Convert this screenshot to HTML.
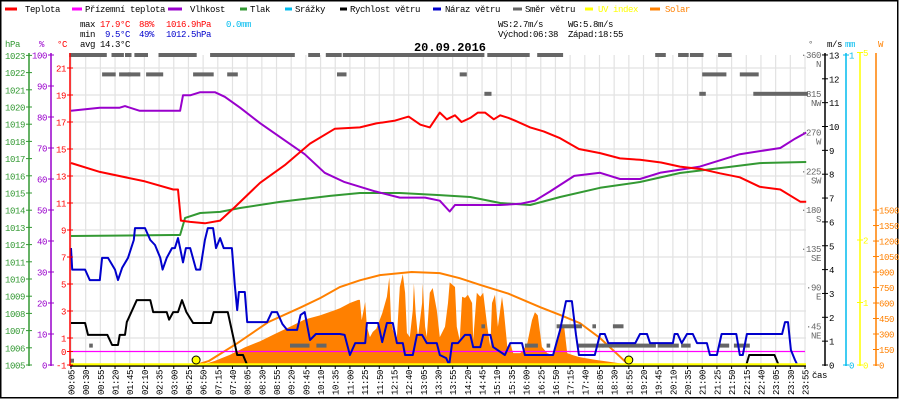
<!DOCTYPE html>
<html><head><meta charset="utf-8"><title>Weather chart 20.09.2016</title>
<style>
html,body{margin:0;padding:0;background:#fff;}
svg{display:block;font-family:"Liberation Mono",monospace;font-size:9px;letter-spacing:-0.4px;}
</style></head>
<body>
<svg id="chart" width="900" height="400" viewBox="0 0 900 400" xmlns="http://www.w3.org/2000/svg">
<rect x="0.75" y="0.75" width="897" height="397" fill="#fff" stroke="#000" stroke-width="1.5"/>
<g id="grid"></g>
<g id="series"></g>
<g id="axes"></g>

<!-- legend -->
<g>
 <g><line x1="5" y1="9" x2="17" y2="9" stroke="#ff0000" stroke-width="3"/><text x="25" y="12">Teplota</text></g>
 <g><line x1="72" y1="9" x2="82" y2="9" stroke="#ff00ff" stroke-width="3"/><text x="85" y="12">Přízemní teplota</text></g>
 <g><line x1="168" y1="9" x2="182" y2="9" stroke="#9900cc" stroke-width="3"/><text x="190" y="12">Vlhkost</text></g>
 <g><line x1="240" y1="9" x2="247" y2="9" stroke="#339933" stroke-width="3"/><text x="250" y="12">Tlak</text></g>
 <g><line x1="285" y1="9" x2="292" y2="9" stroke="#00bbee" stroke-width="3"/><text x="295" y="12">Srážky</text></g>
 <g><line x1="340" y1="9" x2="347" y2="9" stroke="#000" stroke-width="3"/><text x="350" y="12">Rychlost větru</text></g>
 <g><line x1="433" y1="9" x2="441" y2="9" stroke="#0000cc" stroke-width="3"/><text x="445" y="12">Náraz větru</text></g>
 <g><line x1="513" y1="9" x2="522" y2="9" stroke="#666" stroke-width="3"/><text x="525" y="12">Směr větru</text></g>
 <g><line x1="585" y1="9" x2="593" y2="9" stroke="#ffff00" stroke-width="3"/><text x="598" y="12" fill="#ffff00">UV index</text></g>
 <g><line x1="650" y1="9" x2="660" y2="9" stroke="#ff8000" stroke-width="3"/><text x="665" y="12" fill="#ff8000">Solar</text></g>
</g>

<!-- stats -->
<g>
 <text x="80" y="27">max</text>
 <text x="100" y="27" fill="#ff0000">17.9°C</text>
 <text x="139" y="27" fill="#ff0000">88%</text>
 <text x="166" y="27" fill="#ff0000">1016.9hPa</text>
 <text x="226" y="27" fill="#00bbee">0.0mm</text>
 <text x="80" y="37">min</text>
 <text x="105" y="37" fill="#0000cc">9.5°C</text>
 <text x="139" y="37" fill="#0000cc">49%</text>
 <text x="166" y="37" fill="#0000cc">1012.5hPa</text>
 <text x="80" y="47">avg 14.3°C</text>
 <text x="498" y="27">WS:2.7m/s</text>
 <text x="568" y="27">WG:5.8m/s</text>
 <text x="498" y="37">Východ:06:38</text>
 <text x="568" y="37">Západ:18:55</text>
</g>
<text x="450" y="51" text-anchor="middle" font-weight="bold" font-size="12px" letter-spacing="0">20.09.2016</text>

<!-- axis headers -->
<text x="5" y="47" fill="#339933">hPa</text>
<text x="39" y="47" fill="#9900cc">%</text>
<text x="57" y="47" fill="#ff0000">°C</text>
<text x="808" y="47" fill="#666">°</text>
<text x="827" y="47">m/s</text>
<text x="845" y="47" fill="#00bbee">mm</text>
<text x="878" y="47" fill="#ff8000">W</text>
<text x="812" y="378">čas</text>

<script>
// ---------- data ----------
const tickLabels = ["00:05","00:30","00:55","01:20","01:45","02:10","02:35","03:00","06:25","06:50","07:15","07:40","08:05","08:30","08:55","09:20","09:45","10:10","10:35","11:00","11:25","11:50","12:15","12:40","13:05","13:30","13:55","14:20","14:45","15:10","15:35","16:00","16:25","16:50","17:15","17:40","18:05","18:30","18:55","19:20","19:45","20:10","20:35","21:00","21:25","21:50","22:15","22:40","23:05","23:30","23:55"];

const tempTimes = ["00:05","00:54","02:11","02:59","03:59","04:40","06:28","06:53","07:19","07:44","08:27","09:09","09:52","10:34","11:17","11:45","12:17","12:40","13:00","13:16","13:33","13:45","13:59","14:10","14:25","14:38","14:50","15:05","15:16","15:30","15:41","16:07","16:30","16:58","17:30","18:06","18:40","19:14","19:50","20:22","21:00","21:30","22:04","22:38","23:13","23:47","23:57"];
const tempValues = [13.96,13.3,12.6,12.0,12.0,9.7,9.6,9.5,9.7,10.7,12.5,13.8,15.4,16.5,16.6,16.9,17.1,17.4,16.8,16.6,17.7,17.2,17.5,17.0,17.3,17.7,17.7,17.2,17.5,17.3,17.1,16.6,16.3,15.8,15.0,14.7,14.3,14.2,14.0,13.7,13.5,13.2,12.9,12.2,12.0,11.1,11.1];

const groundTimes = ["00:05","23:55"];
const groundValues = [0,0];

const humTimes = ["00:05","00:54","01:28","01:37","02:02","02:45","02:59","04:28","05:09","06:28","06:45","07:10","07:27","07:53","08:27","09:09","09:43","10:17","10:51","11:43","12:25","13:08","13:33","13:50","13:59","14:25","15:16","15:50","16:15","16:41","17:22","18:06","18:40","19:14","19:48","20:56","22:04","23:13","23:38","23:57"];
const humValues = [82,83,83,83.5,82,82,82,82,87,87,88,88,86.5,83,78,72.5,68,62,59,56,54,54,53,49.5,51.6,51.6,51.6,52,53,56,61,62,60,60,62,64,68,70,73,75];

const pressTimes = ["00:05","02:59","04:28","05:38","06:45","07:19","07:53","09:01","10:26","11:17","12:25","13:33","14:25","15:16","16:07","16:58","18:06","19:14","20:22","21:30","22:38","23:57"];
const pressValues = [1012.5,1012.56,1012.56,1013.55,1013.84,1013.9,1014.13,1014.48,1014.83,1015.0,1015.0,1014.88,1014.77,1014.42,1014.3,1014.77,1015.3,1015.64,1016.16,1016.45,1016.74,1016.8];

const windTimes = ["00:05","00:29","00:34","01:07","01:15","01:25","01:28","01:37","01:40","01:57","02:20","02:25","02:48","02:52","02:59","03:59","04:55","05:57","06:33","07:03","07:08","07:32","07:48","07:58","08:05","22:15","22:20","23:03","23:10","23:55"];
const windValues = [1.76,1.76,1.26,1.26,0.84,0.84,1.26,1.26,1.8,2.72,2.72,2.22,2.22,1.9,2.22,2.22,2.72,2.22,1.76,1.76,2.22,2.22,0.42,0.42,0,0,0.42,0.42,0,0];

const gustTimes = ["00:05","00:07","00:29","00:37","00:54","00:58","01:08","01:20","01:25","01:32","01:42","01:52","01:54","02:11","02:20","02:28","02:37","02:41","02:48","02:57","03:16","03:59","04:28","05:09","05:50","06:28","06:38","06:45","06:53","06:58","07:07","07:12","07:19","07:25","07:39","07:44","07:48","07:51","08:01","08:05","08:39","08:47","08:56","09:05","09:13","09:30","09:36","09:43","09:52","10:02","10:43","10:51","11:00","11:09","11:26","11:29","11:48","11:55","12:03","12:13","12:20","12:30","12:34","12:47","12:54","13:03","13:11","13:28","13:33","13:44","13:49","13:54","14:04","14:16","14:25","14:30","14:42","14:47","14:59","15:04","15:24","15:33","15:53","15:58","16:46","16:58","17:08","17:18","17:25","17:30","17:57","18:06","18:14","18:20","19:06","19:14","19:26","19:31","20:10","20:13","20:18","20:25","20:34","20:44","20:51","21:08","21:13","21:25","21:33","21:58","22:04","22:09","22:16","23:16","23:21","23:26","23:31","23:38","23:42","23:55"];
const gustValues = [4.9,4.0,4.0,3.56,3.56,4.49,4.49,4.0,3.56,4.07,4.49,5.24,5.74,5.74,5.24,5.03,4.49,4.0,4.49,4.9,4.9,5.32,4.9,4.3,4.9,4.9,4.0,4.0,5.24,5.74,5.74,4.9,5.32,4.9,4.9,3.35,2.3,3.06,3.06,1.8,1.8,2.22,2.22,1.72,1.47,1.47,2.1,2.22,1.05,1.3,1.3,1.26,0.42,0.92,0.92,1.76,1.76,0.96,1.76,1.76,0.92,0.92,0.42,0.42,1.26,1.26,0.92,0.92,0.42,0.29,0,0.92,0.92,1.26,1.26,0.75,0.75,1.26,1.26,0.75,0.42,0.92,0.92,0.42,0.42,1.47,2.68,2.68,1.26,0.42,0.42,1.3,1.3,0.92,0.92,1.3,1.3,0.92,0.92,1.3,1.3,0.92,1.3,1.3,0.92,0.92,0.42,0.42,1.3,1.3,0.42,0.42,1.3,1.3,1.8,1.8,0.63,0.21,0,0];

const solarTimes = ["06:40","06:53","07:10","07:36","08:01","08:27","08:52","09:18","09:43","10:09","10:34","10:43","11:00","11:14","11:17","11:20","11:26","11:29","11:34","11:39","11:45","11:55","12:03","12:07","12:10","12:13","12:20","12:25","12:30","12:34","12:37","12:42","12:47","12:49","12:52","12:56","13:03","13:04","13:08","13:11","13:16","13:21","13:28","13:33","13:42","13:47","13:50","13:59","14:02","14:07","14:11","14:16","14:21","14:28","14:30","14:36","14:42","14:47","14:54","14:59","15:02","15:07","15:12","15:19","15:22","15:28","15:33","15:38","15:50","15:55","16:02","16:10","16:15","16:20","16:27","16:36","16:46","16:54","17:01","17:05","17:10","17:20","17:32","17:57","18:23","18:48","18:57"];
const solarValues = [0,10,40,100,170,230,300,370,440,480,530,550,600,630,630,435,610,370,270,320,350,500,660,850,435,340,270,755,880,700,310,270,530,790,500,270,600,790,370,270,700,745,530,270,370,600,800,755,370,240,660,650,680,600,240,700,660,700,370,175,600,680,370,660,530,175,210,115,115,140,210,435,510,480,175,115,95,270,385,370,115,95,75,50,30,10,0];

const theoryTimes = ["06:38","07:00","07:48","08:41","09:37","10:10","10:43","11:17","11:51","12:45","13:33","14:07","14:42","15:30","16:24","17:00","17:32","18:06","18:40","18:55"];
const theoryValues = [0,40,210,415,560,650,755,820,870,900,890,840,775,690,560,480,405,260,80,0];

const uvTimes = ["00:05","23:55"];
const uvValues = [0,0];
const rainTimes = ["00:05","23:55"];
const rainValues = [0,0];

const dirStart = ["00:05","00:41","01:17","01:40","01:56","02:37","07:05","07:46","09:52","10:22","10:51","13:50","14:16","14:57","16:22","16:43","19:43","20:22","20:42","21:30",
 "01:01","01:30","01:45","02:16","06:36","07:34","10:41","14:10","21:03","22:07",
 "14:52","20:58","22:30",
 "00:07","00:39","09:21","10:06","16:01","16:38","17:32","18:13","19:47","20:27","21:31","21:57",
 "14:47","16:55","17:56","18:31"];
const dirEnd = ["00:37","01:03","01:32","01:45","02:13","06:36","07:42","09:23","10:06","10:43","13:50","14:12","14:46","16:03","16:39","17:00","19:55","20:34","20:59","21:47",
 "01:18","01:44","02:00","02:39","07:05","07:46","10:51","14:16","21:38","22:33",
 "14:58","21:03","23:57",
 "00:07","00:39","09:48","10:17","16:17","16:38","18:09","19:38","20:17","20:37","21:43","22:18",
 "14:47","17:32","17:56","18:43"];
const dirDeg = [360,360,360,360,360,360,360,360,360,360,360,360,360,360,360,360,360,360,360,360,
 337.5,337.5,337.5,337.5,337.5,337.5,337.5,337.5,337.5,337.5,
 315,315,315,
 5,22.5,22.5,22.5,22.5,22.5,22.5,22.5,22.5,22.5,22.5,22.5,
 45,45,45,45];

const sunEvents = ["06:38","18:55"];

// axis tick values
const hpaTicks = [1005,1006,1007,1008,1009,1010,1011,1012,1013,1014,1015,1016,1017,1018,1019,1020,1021,1022,1023];
const humTicks = [0,10,20,30,40,50,60,70,80,90,100];
const tempTicks = [-1,0,1,3,5,7,9,11,13,15,17,19,21];
const dirTicks = [360,315,270,225,180,135,90,45];
const dirNames = ["N","NW","W","SW","S","SE","E","NE"];
const windTicks = [0,1,2,3,4,5,6,7,8,9,10,11,12,13];
const rainTicks = [0,1];
const uvTicks = [0,1,2,5];
const solarTicks = [0,150,300,450,600,750,900,1050,1200,1350,1500];

// ---------- scales ----------
const X0 = 71, STEP = 14.68, YB = 365, YT = 55;
function toMin(s){const p=s.split(":");return (+p[0])*60+(+p[1]);}
function xOf(s){
  const m = toMin(s); let idx;
  if (m <= 180) idx = (m-5)/25;
  else if (m < 385) idx = 7 + (m-180)/205;
  else idx = 8 + (m-385)/25;
  return X0 + idx*STEP;
}
const yTemp = v => YB - (v+1)*13.5;
const yHum = v => YB - v*3.1;
const yHpa = v => YB - (v-1005)*17.2;
const yWind = v => YB - v*23.85;
const ySolar = v => YB - v*0.1033;
const yUv = v => YB - v*62.5;
const yRain = v => YB - v*310;
const yDir = v => YB - v*310/360;

const NS = "http://www.w3.org/2000/svg";
function mk(tag, attrs, parent){
  const e = document.createElementNS(NS, tag);
  for (const k in attrs) e.setAttribute(k, attrs[k]);
  parent.appendChild(e); return e;
}
const grid = document.getElementById("grid");
const series = document.getElementById("series");
const axes = document.getElementById("axes");

// ---------- grid ----------
tickLabels.forEach((t,i)=>{
  const x = X0 + i*STEP;
  const l = mk("line",{x1:x,y1:YT,x2:x,y2:YB,stroke:"#e2e2e2","stroke-width":1.2},grid);
  
  
});
tempTicks.filter(v=>v>0 && v%2===1).forEach(v=>{
  const l = mk("line",{x1:70,y1:yTemp(v),x2:806,y2:yTemp(v),stroke:"#e2e2e2","stroke-width":1.2},grid);
  
  
});

// ---------- series ----------
function pathPts(times, vals, yf){
  return times.map((t,i)=>(i?"L":"M")+xOf(t).toFixed(1)+","+yf(vals[i]).toFixed(1)).join("");
}
let sd = pathPts(solarTimes, solarValues, ySolar);
sd += "L"+xOf(solarTimes[solarTimes.length-1]).toFixed(1)+","+YB+"L"+xOf(solarTimes[0]).toFixed(1)+","+YB+"Z";
const solarArea = mk("path",{d:sd,fill:"#ff8000",stroke:"none"},series);



const theory = mk("path",{d:pathPts(theoryTimes,theoryValues,ySolar),fill:"none",stroke:"#ff8000","stroke-width":2},series);



dirStart.forEach((s,i)=>{
  const x1 = xOf(s)-1.8, x2 = xOf(dirEnd[i])+1.8;
  const y = Math.min(yDir(dirDeg[i]), 362.5);
  const r = mk("rect",{x:x1.toFixed(1),y:(y-2).toFixed(1),width:(x2-x1).toFixed(1),height:4,fill:"#666"},series);
  
  
});

function line(times, vals, yf, color, name, w){
  const p = mk("path",{d:pathPts(times,vals,yf),fill:"none",stroke:color,"stroke-width":w||2,"stroke-linejoin":"round"},series);
  
  
  return p;
}
line(groundTimes, groundValues, yTemp, "#ff00ff", "ground-temperature-line", 1.2);
line(rainTimes, rainValues, yRain, "#00bbee", "rain-line", 1);
line(pressTimes, pressValues, yHpa, "#339933", "pressure-line");
line(humTimes, humValues, yHum, "#9900cc", "humidity-line");
line(tempTimes, tempValues, yTemp, "#ff0000", "temperature-line");
line(windTimes, windValues, yWind, "#000000", "wind-speed-line");
line(gustTimes, gustValues, yWind, "#0000cc", "wind-gust-line");
line(uvTimes, uvValues, yUv, "#ffff00", "uv-index-line", 3);

const xa = mk("line",{x1:70,y1:YB+1,x2:806,y2:YB+1,stroke:"#000","stroke-width":1.5},axes);


const uvBase = mk("line",{x1:70,y1:YB-0.8,x2:806,y2:YB-0.8,stroke:"#ffff00","stroke-width":2},axes);



sunEvents.forEach(t=>{
  const c = mk("circle",{cx:xOf(t).toFixed(1),cy:360,r:4,fill:"#ffff00",stroke:"#000","stroke-width":1},axes);
  
  
});

tickLabels.forEach((t,i)=>{
  const x = X0 + i*STEP;
  const tk = mk("line",{x1:x,y1:YB+1,x2:x,y2:YB+4,stroke:"#000"},axes);
  
  
  const tx = mk("text",{transform:"translate("+(x+3.5).toFixed(1)+",370) rotate(-90)","text-anchor":"end"},axes);
  tx.textContent = t;
  
  
});

function vAxis(x, color, name){
  const l = mk("line",{x1:x,y1:YT-2,x2:x,y2:YB+1,stroke:color,"stroke-width":1.5},axes);
  
  
}
function ticks(vals, yf, x, color, labelX, anchor, name){
  vals.forEach(v=>{
    const y = yf(v);
    const tk = mk("line",{x1:x-3,y1:y,x2:x+3,y2:y,stroke:color},axes);
    
    
    const t = mk("text",{x:labelX,y:(y+3.5).toFixed(1),"text-anchor":anchor,fill:color},axes);
    t.textContent = String(v);
    
    
  });
}
vAxis(29,"#339933","hpa-axis");
ticks(hpaTicks,yHpa,29,"#339933",25,"end","hpa");
vAxis(51,"#9900cc","humidity-axis");
ticks(humTicks,yHum,51,"#9900cc",47,"end","humidity");
vAxis(70,"#ff0000","temperature-axis");
ticks(tempTicks,yTemp,70,"#ff0000",66,"end","temperature");

dirTicks.forEach((v,i)=>{
  const y = yDir(v);
  const t = mk("text",{x:821,y:(y+3).toFixed(1),"text-anchor":"end",fill:"#666"},axes);
  t.textContent = "·"+v;
  
  
  const n = mk("text",{x:821,y:(y+12).toFixed(1),"text-anchor":"end",fill:"#666"},axes);
  n.textContent = dirNames[i];
  
  
});
vAxis(825,"#000","wind-axis");
ticks(windTicks,yWind,825,"#000",829,"start","wind");
vAxis(846,"#00bbee","rain-axis");
ticks(rainTicks,yRain,846,"#00bbee",849,"start","rain");
vAxis(860,"#ffff00","uv-axis");
ticks(uvTicks,yUv,860,"#ffff00",863,"start","uv");
vAxis(876,"#ff8000","solar-axis");
ticks(solarTicks,ySolar,876,"#ff8000",879,"start","solar");
</script>
</svg>
</body></html>
